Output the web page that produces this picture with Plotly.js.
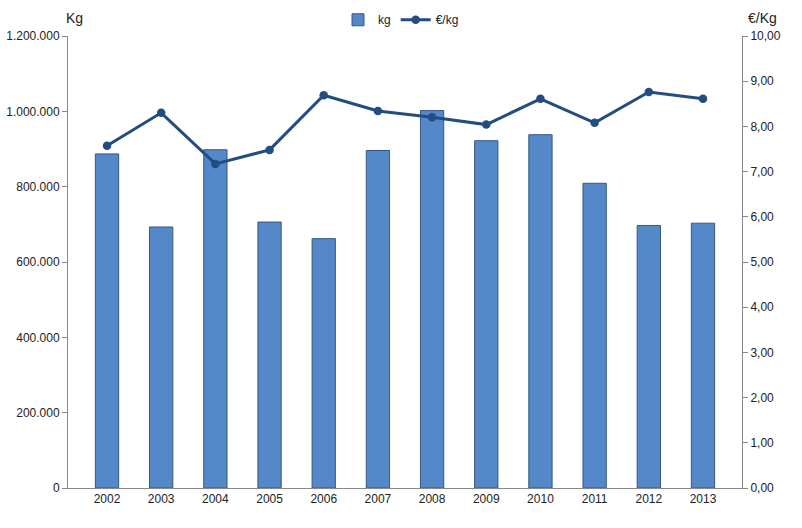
<!DOCTYPE html>
<html>
<head>
<meta charset="utf-8">
<script src="https://cdn.plot.ly/plotly-3.0.1.min.js"></script>
<style>html,body{margin:0;padding:0;background:#fff;}#chart{width:802px;height:528px;}</style>
</head>
<body>
<div id="chart"></div>
<script>
const years = ['2002','2003','2004','2005','2006','2007','2008','2009','2010','2011','2012','2013'];
const kg = [887000, 693000, 898000, 706000, 662000, 896000, 1002000, 922000, 938000, 809000, 697000, 703000];
const eurPerKg = [7.57, 8.30, 7.17, 7.48, 8.69, 8.34, 8.20, 8.04, 8.61, 8.08, 8.76, 8.61];

const fam = 'Liberation Sans Narrow, Liberation Sans, Arial';
const font = {family: fam, size: 12, color: '#222'};

const traces = [
  {
    type: 'bar', x: years, y: kg, name: 'kg', yaxis: 'y',
    width: 0.43,
    marker: {color: '#5588C8', line: {color: '#35597F', width: 1}}
  },
  {
    type: 'scatter', mode: 'lines+markers', x: years, y: eurPerKg, name: '€/kg', yaxis: 'y2',
    line: {color: '#234C80', width: 3},
    marker: {color: '#234C80', size: 8.5}
  }
];

const layout = {
  width: 802, height: 528,
  margin: {l: 68, r: 60, t: 36, b: 40, autoexpand: false},
  paper_bgcolor: '#fff', plot_bgcolor: '#fff',
  font: font,
  separators: ',.',
  showlegend: true,
  legend: {orientation: 'h', xref: 'container', yref: 'container', x: 0.5, xanchor: 'center', y: 0.99, yanchor: 'top',
           font: {family: fam, size: 12, color: '#222'}, itemwidth: 30, tracegroupgap: 0},
  bargap: 0.57,
  xaxis: {
    type: 'category', showgrid: false, showline: true, linecolor: '#888', linewidth: 1,
    ticks: '', tickfont: {family: fam, size: 12, color: '#222'}, zeroline: false
  },
  yaxis: {
    range: [0, 1200000], dtick: 200000, tickformat: ',d', showgrid: false,
    showline: true, linecolor: '#888', linewidth: 1, ticks: 'outside', ticklen: 5, tickcolor: '#888',
    zeroline: false, tickfont: {family: fam, size: 12, color: '#222'}
  },
  yaxis2: {
    overlaying: 'y', side: 'right', range: [0, 10], dtick: 1, tickformat: '.2f', showgrid: false,
    showline: true, linecolor: '#888', linewidth: 1, ticks: 'outside', ticklen: 5, tickcolor: '#888',
    zeroline: false, tickfont: {family: fam, size: 12, color: '#222'}
  },
  annotations: [
    {text: 'Kg', xref: 'paper', yref: 'paper', x: 0, y: 1, xanchor: 'left', yanchor: 'bottom', xshift: -4, yshift: 8, showarrow: false, font: {family: fam, size: 14, color: '#222'}},
    {text: '€/Kg', xref: 'paper', yref: 'paper', x: 1, y: 1, xanchor: 'left', yanchor: 'bottom', xshift: 4, yshift: 8, showarrow: false, font: {family: fam, size: 14, color: '#222'}}
  ]
};

Plotly.newPlot('chart', traces, layout, {displayModeBar: false, staticPlot: true});
</script>
</body>
</html>
